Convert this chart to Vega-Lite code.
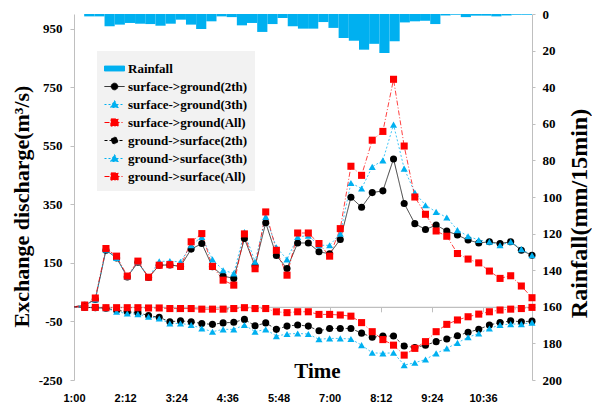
{
  "$schema": "https://vega.github.io/schema/vega-lite/v6.json",
  "width": 458,
  "height": 366,
  "autosize": {"type": "none"},
  "padding": {"left": 74, "top": 14, "right": 60, "bottom": 25},
  "config": {
    "view": {"stroke": null},
    "font": "Liberation Serif",
    "axis": {
      "labelFont": "Liberation Serif",
      "labelFontWeight": "bold",
      "labelColor": "#000000",
      "titleFont": "Liberation Serif",
      "titleFontWeight": "bold",
      "titleColor": "#000000",
      "domainColor": "#bfbfbf",
      "tickColor": "#bfbfbf",
      "grid": false
    },
    "legend": {
      "orient": "none", "legendX": 23, "legendY": 37, "title": null,
      "fillColor": "#f2f2f2", "padding": 7,
      "labelFont": "Liberation Serif", "labelFontWeight": "bold", "labelFontSize": 13,
      "labelColor": "#000000", "labelLimit": 300, "labelOffset": 3,
      "symbolSize": 400, "symbolStrokeWidth": 1, "rowPadding": -1.5
    }
  },
  "datasets": {
    "flow": [
      {"time": "2000-01-01T01:00", "sg2": 0, "sg3": 0, "sgAll": 0, "gs2": 0, "gs3": 0, "gsAll": 0},
      {"time": "2000-01-01T01:15", "sg2": 5, "sg3": 5, "sgAll": 6, "gs2": -2, "gs3": -2, "gsAll": -2},
      {"time": "2000-01-01T01:30", "sg2": 25, "sg3": 25, "sgAll": 30, "gs2": -3, "gs3": -3, "gsAll": -2},
      {"time": "2000-01-01T01:45", "sg2": 193, "sg3": 195, "sgAll": 199, "gs2": -5, "gs3": -5, "gsAll": -3},
      {"time": "2000-01-01T02:00", "sg2": 167, "sg3": 167, "sgAll": 173, "gs2": -12, "gs3": -17, "gsAll": -3},
      {"time": "2000-01-01T02:15", "sg2": 102, "sg3": 103, "sgAll": 105, "gs2": -17, "gs3": -23, "gsAll": -3},
      {"time": "2000-01-01T02:30", "sg2": 152, "sg3": 153, "sgAll": 156, "gs2": -20, "gs3": -25, "gsAll": -3},
      {"time": "2000-01-01T02:45", "sg2": 100, "sg3": 101, "sgAll": 101, "gs2": -30, "gs3": -34, "gsAll": -4},
      {"time": "2000-01-01T03:00", "sg2": 142, "sg3": 155, "sgAll": 142, "gs2": -36, "gs3": -40, "gsAll": -4},
      {"time": "2000-01-01T03:15", "sg2": 143, "sg3": 156, "sgAll": 144, "gs2": -51, "gs3": -57, "gsAll": -6},
      {"time": "2000-01-01T03:30", "sg2": 138, "sg3": 154, "sgAll": 138, "gs2": -48, "gs3": -57, "gsAll": -6},
      {"time": "2000-01-01T03:45", "sg2": 197, "sg3": 210, "sgAll": 222, "gs2": -51, "gs3": -62, "gsAll": -6},
      {"time": "2000-01-01T04:00", "sg2": 216, "sg3": 239, "sgAll": 250, "gs2": -57, "gs3": -74, "gsAll": -8},
      {"time": "2000-01-01T04:15", "sg2": 137, "sg3": 162, "sgAll": 138, "gs2": -60, "gs3": -85, "gsAll": -8},
      {"time": "2000-01-01T04:30", "sg2": 105, "sg3": 125, "sgAll": 91, "gs2": -55, "gs3": -77, "gsAll": -8},
      {"time": "2000-01-01T04:45", "sg2": 97, "sg3": 114, "sgAll": 74, "gs2": -53, "gs3": -77, "gsAll": -6},
      {"time": "2000-01-01T05:00", "sg2": 233, "sg3": 255, "sgAll": 249, "gs2": -43, "gs3": -62, "gsAll": -3},
      {"time": "2000-01-01T05:15", "sg2": 140, "sg3": 154, "sgAll": 130, "gs2": -65, "gs3": -85, "gsAll": -6},
      {"time": "2000-01-01T05:30", "sg2": 287, "sg3": 307, "sgAll": 324, "gs2": -55, "gs3": -77, "gsAll": -6},
      {"time": "2000-01-01T05:45", "sg2": 175, "sg3": 203, "sgAll": 193, "gs2": -77, "gs3": -100, "gsAll": -17},
      {"time": "2000-01-01T06:00", "sg2": 131, "sg3": 162, "sgAll": 108, "gs2": -66, "gs3": -93, "gsAll": -20},
      {"time": "2000-01-01T06:15", "sg2": 218, "sg3": 239, "sgAll": 252, "gs2": -62, "gs3": -91, "gsAll": -17},
      {"time": "2000-01-01T06:30", "sg2": 218, "sg3": 243, "sgAll": 252, "gs2": -66, "gs3": -93, "gsAll": -17},
      {"time": "2000-01-01T06:45", "sg2": 188, "sg3": 210, "sgAll": 216, "gs2": -82, "gs3": -111, "gsAll": -26},
      {"time": "2000-01-01T07:00", "sg2": 181, "sg3": 210, "sgAll": 173, "gs2": -74, "gs3": -108, "gsAll": -26},
      {"time": "2000-01-01T07:15", "sg2": 230, "sg3": 250, "sgAll": 267, "gs2": -74, "gs3": -108, "gsAll": -28},
      {"time": "2000-01-01T07:30", "sg2": 374, "sg3": 423, "sgAll": 480, "gs2": -74, "gs3": -110, "gsAll": -32},
      {"time": "2000-01-01T07:45", "sg2": 340, "sg3": 404, "sgAll": 449, "gs2": -90, "gs3": -131, "gsAll": -54},
      {"time": "2000-01-01T08:00", "sg2": 390, "sg3": 478, "sgAll": 569, "gs2": -104, "gs3": -157, "gsAll": -85},
      {"time": "2000-01-01T08:15", "sg2": 396, "sg3": 500, "sgAll": 599, "gs2": -100, "gs3": -159, "gsAll": -112},
      {"time": "2000-01-01T08:30", "sg2": 505, "sg3": 622, "sgAll": 777, "gs2": -100, "gs3": -157, "gsAll": -131},
      {"time": "2000-01-01T08:45", "sg2": 353, "sg3": 472, "sgAll": 549, "gs2": -134, "gs3": -199, "gsAll": -165},
      {"time": "2000-01-01T09:00", "sg2": 284, "sg3": 390, "sgAll": 375, "gs2": -139, "gs3": -191, "gsAll": -142},
      {"time": "2000-01-01T09:15", "sg2": 264, "sg3": 347, "sgAll": 316, "gs2": -131, "gs3": -180, "gsAll": -119},
      {"time": "2000-01-01T09:30", "sg2": 279, "sg3": 324, "sgAll": 259, "gs2": -119, "gs3": -159, "gsAll": -85},
      {"time": "2000-01-01T09:45", "sg2": 259, "sg3": 305, "sgAll": 241, "gs2": -110, "gs3": -142, "gsAll": -60},
      {"time": "2000-01-01T10:00", "sg2": 245, "sg3": 262, "sgAll": 182, "gs2": -99, "gs3": -123, "gsAll": -45},
      {"time": "2000-01-01T10:15", "sg2": 228, "sg3": 241, "sgAll": 163, "gs2": -87, "gs3": -104, "gsAll": -34},
      {"time": "2000-01-01T10:30", "sg2": 218, "sg3": 228, "sgAll": 150, "gs2": -77, "gs3": -91, "gsAll": -25},
      {"time": "2000-01-01T10:45", "sg2": 222, "sg3": 222, "sgAll": 122, "gs2": -62, "gs3": -74, "gsAll": -17},
      {"time": "2000-01-01T11:00", "sg2": 216, "sg3": 210, "sgAll": 97, "gs2": -54, "gs3": -62, "gsAll": -11},
      {"time": "2000-01-01T11:15", "sg2": 222, "sg3": 222, "sgAll": 106, "gs2": -48, "gs3": -59, "gsAll": -8},
      {"time": "2000-01-01T11:30", "sg2": 193, "sg3": 197, "sgAll": 71, "gs2": -51, "gs3": -59, "gsAll": -6},
      {"time": "2000-01-01T11:45", "sg2": 176, "sg3": 176, "sgAll": 31, "gs2": -49, "gs3": -54, "gsAll": -2}
    ],
    "rain": [
      {"t": "1:00", "rain": 0}, {"t": "1:15", "rain": 1.3}, {"t": "1:30", "rain": 1.3}, {"t": "1:45", "rain": 6.7},
      {"t": "2:00", "rain": 5.8}, {"t": "2:15", "rain": 4.9}, {"t": "2:30", "rain": 5.3}, {"t": "2:45", "rain": 5.5},
      {"t": "3:00", "rain": 6.4}, {"t": "3:15", "rain": 5.3}, {"t": "3:30", "rain": 3.1}, {"t": "3:45", "rain": 5.8},
      {"t": "4:00", "rain": 8.2}, {"t": "4:15", "rain": 4.0}, {"t": "4:30", "rain": 1.3}, {"t": "4:45", "rain": 1.7},
      {"t": "5:00", "rain": 6.2}, {"t": "5:15", "rain": 4.9}, {"t": "5:30", "rain": 9.8}, {"t": "5:45", "rain": 5.5},
      {"t": "6:00", "rain": 2.2}, {"t": "6:15", "rain": 6.7}, {"t": "6:30", "rain": 8.0}, {"t": "6:45", "rain": 8.0},
      {"t": "7:00", "rain": 4.4}, {"t": "7:15", "rain": 7.6}, {"t": "7:30", "rain": 13.1}, {"t": "7:45", "rain": 14.6},
      {"t": "8:00", "rain": 19.5}, {"t": "8:15", "rain": 16.3}, {"t": "8:30", "rain": 21.3}, {"t": "8:45", "rain": 14.9},
      {"t": "9:00", "rain": 4.6}, {"t": "9:15", "rain": 4.0}, {"t": "9:30", "rain": 3.7}, {"t": "9:45", "rain": 5.5},
      {"t": "10:00", "rain": 0.8}, {"t": "10:15", "rain": 0.4}, {"t": "10:30", "rain": 1.7}, {"t": "10:45", "rain": 0.9},
      {"t": "11:00", "rain": 0.9}, {"t": "11:15", "rain": 1.3}, {"t": "11:30", "rain": 0.8}, {"t": "11:45", "rain": 0.4},
      {"t": "12:00", "rain": 0.4}
    ]
  },
  "layer": [
    {
      "data": {"name": "rain"},
      "mark": {"type": "bar", "color": "#00b0f0"},
      "encoding": {
        "x": {"field": "t", "type": "ordinal", "sort": null, "scale": {"type": "band", "paddingInner": 0, "paddingOuter": 0}, "axis": null},
        "y": {
          "field": "rain", "type": "quantitative",
          "scale": {"domain": [0, 200], "reverse": true, "nice": false},
          "axis": {
            "orient": "right", "values": [0, 20, 40, 60, 80, 100, 120, 140, 160, 180, 200],
            "tickSize": 3, "labelPadding": 7, "labelFontSize": 13,
            "title": "Rainfall(mm/15min)", "titleFontSize": 24, "titleAngle": 270,
            "titleBaseline": "top", "titlePadding": 6, "titleY": 199
          }
        }
      }
    },
    {
      "data": {"name": "flow"},
      "transform": [{"fold": ["sg2", "sg3", "sgAll", "gs2", "gs3", "gsAll"], "as": ["series", "value"]}],
      "mark": {"type": "line", "strokeWidth": 1, "opacity": 0.75},
      "encoding": {
        "x": {
          "field": "time", "type": "temporal",
          "scale": {"domain": [{"year": 2000, "month": 1, "date": 1, "hours": 1, "minutes": 0}, {"year": 2000, "month": 1, "date": 1, "hours": 11, "minutes": 45}], "nice": false},
          "axis": {
            "orient": "bottom",
            "values": [
              {"year": 2000, "month": 1, "date": 1, "hours": 1, "minutes": 0},
              {"year": 2000, "month": 1, "date": 1, "hours": 2, "minutes": 12},
              {"year": 2000, "month": 1, "date": 1, "hours": 3, "minutes": 24},
              {"year": 2000, "month": 1, "date": 1, "hours": 4, "minutes": 36},
              {"year": 2000, "month": 1, "date": 1, "hours": 5, "minutes": 48},
              {"year": 2000, "month": 1, "date": 1, "hours": 7, "minutes": 0},
              {"year": 2000, "month": 1, "date": 1, "hours": 8, "minutes": 12},
              {"year": 2000, "month": 1, "date": 1, "hours": 9, "minutes": 24},
              {"year": 2000, "month": 1, "date": 1, "hours": 10, "minutes": 36}
            ],
            "format": "%-H:%M", "domain": false, "ticks": false, "tickSize": 0,
            "labelFont": "Liberation Sans", "labelFontSize": 11, "labelPadding": 12,
            "labelFlush": false, "labelOverlap": false,
            "title": "Time", "titleFontSize": 21, "titleX": 243, "titleY": -3,
            "titleBaseline": "alphabetic", "titleAlign": "center"
          }
        },
        "y": {
          "field": "value", "type": "quantitative",
          "scale": {"domain": [-250, 1000], "nice": false, "zero": false},
          "axis": {
            "orient": "left", "values": [-250, -50, 150, 350, 550, 750, 950],
            "labelExpr": "'' + datum.value",
            "tickSize": 4, "labelPadding": 8, "labelFontSize": 13,
            "title": "Exchange discharge(m³/s)", "titleFontSize": 22, "titlePadding": 5, "titleY": 192
          }
        },
        "color": {
          "field": "series", "type": "nominal",
          "scale": {"domain": ["sg2", "sg3", "sgAll", "gs2", "gs3", "gsAll"], "range": ["#000000", "#00b0f0", "#ff0000", "#000000", "#00b0f0", "#ff0000"]},
          "legend": null
        },
        "strokeDash": {
          "field": "series", "type": "nominal",
          "scale": {"domain": ["sg2", "sg3", "sgAll", "gs2", "gs3", "gsAll"], "range": [[1, 0], [2, 2], [5, 2, 1, 2], [3, 2], [2, 2], [5, 2, 1, 2]]},
          "legend": null
        }
      }
    },
    {
      "data": {"name": "flow"},
      "transform": [
        {"fold": ["sg2", "sg3", "sgAll", "gs2", "gs3", "gsAll"], "as": ["series", "value"]},
        {"filter": {"field": "time", "gt": {"year": 2000, "month": 1, "date": 1, "hours": 1, "minutes": 0}}}
      ],
      "mark": {"type": "point", "filled": true, "opacity": 1, "size": 50, "strokeWidth": 0},
      "encoding": {
        "x": {
          "field": "time", "type": "temporal",
          "scale": {"domain": [{"year": 2000, "month": 1, "date": 1, "hours": 1, "minutes": 0}, {"year": 2000, "month": 1, "date": 1, "hours": 11, "minutes": 45}], "nice": false},
          "axis": {
            "orient": "bottom", "offset": -73.2,
            "values": [
              {"year": 2000, "month": 1, "date": 1, "hours": 1, "minutes": 0},
              {"year": 2000, "month": 1, "date": 1, "hours": 2, "minutes": 12},
              {"year": 2000, "month": 1, "date": 1, "hours": 3, "minutes": 24},
              {"year": 2000, "month": 1, "date": 1, "hours": 4, "minutes": 36},
              {"year": 2000, "month": 1, "date": 1, "hours": 5, "minutes": 48},
              {"year": 2000, "month": 1, "date": 1, "hours": 7, "minutes": 0},
              {"year": 2000, "month": 1, "date": 1, "hours": 8, "minutes": 12},
              {"year": 2000, "month": 1, "date": 1, "hours": 9, "minutes": 24},
              {"year": 2000, "month": 1, "date": 1, "hours": 10, "minutes": 36}
            ],
            "labels": false, "tickSize": 5, "domainWidth": 1.2, "title": null
          }
        },
        "y": {
          "field": "value", "type": "quantitative",
          "scale": {"domain": [-250, 1000], "nice": false, "zero": false},
          "axis": null
        },
        "color": {
          "field": "series", "type": "nominal",
          "scale": {"domain": ["sg2", "sg3", "sgAll", "gs2", "gs3", "gsAll"], "range": ["#000000", "#00b0f0", "#ff0000", "#000000", "#00b0f0", "#ff0000"]},
          "legend": null
        },
        "shape": {
          "field": "series", "type": "nominal",
          "scale": {"domain": ["sg2", "sg3", "sgAll", "gs2", "gs3", "gsAll"], "range": ["circle", "triangle-up", "square", "circle", "triangle-up", "square"]},
          "legend": null
        }
      }
    },
    {
      "data": {"name": "rain"},
      "transform": [{"filter": "false"}],
      "mark": {"type": "point", "filled": true, "opacity": 1},
      "encoding": {
        "fill": {
          "field": "entry", "type": "nominal",
          "scale": {
            "domain": ["Rainfall", "surface->ground(2th)", "surface->ground(3th)", "surface->ground(All)", "ground->surface(2th)", "ground->surface(3th)", "ground->surface(All)"],
            "range": ["#00b0f0", "#000000", "#00b0f0", "#ff0000", "#000000", "#00b0f0", "#ff0000"]
          }
        },
        "stroke": {
          "field": "entry", "type": "nominal",
          "scale": {
            "domain": ["Rainfall", "surface->ground(2th)", "surface->ground(3th)", "surface->ground(All)", "ground->surface(2th)", "ground->surface(3th)", "ground->surface(All)"],
            "range": ["#00b0f0", "#000000", "#00b0f0", "#ff0000", "#000000", "#00b0f0", "#ff0000"]
          }
        },
        "shape": {
          "field": "entry", "type": "nominal",
          "scale": {
            "domain": ["Rainfall", "surface->ground(2th)", "surface->ground(3th)", "surface->ground(All)", "ground->surface(2th)", "ground->surface(3th)", "ground->surface(All)"],
            "range": [
              "M-1,-0.25H1V0.25H-1Z",
              "M-1,0H1M0.33,0A0.33,0.33,0,1,1,-0.33,0A0.33,0.33,0,1,1,0.33,0Z",
              "M-1,0H1M0,-0.4L0.4,0.3L-0.4,0.3Z",
              "M-1,0H1M-0.36,-0.36H0.36V0.36H-0.36Z",
              "M-1,0H1M0.33,0A0.33,0.33,0,1,1,-0.33,0A0.33,0.33,0,1,1,0.33,0Z",
              "M-1,0H1M0,-0.4L0.4,0.3L-0.4,0.3Z",
              "M-1,0H1M-0.36,-0.36H0.36V0.36H-0.36Z"
            ]
          }
        },
        "strokeDash": {
          "field": "entry", "type": "nominal",
          "scale": {
            "domain": ["Rainfall", "surface->ground(2th)", "surface->ground(3th)", "surface->ground(All)", "ground->surface(2th)", "ground->surface(3th)", "ground->surface(All)"],
            "range": [[1, 0], [1, 0], [2, 2], [5, 2, 1, 2], [3, 2], [2, 2], [5, 2, 1, 2]]
          }
        }
      }
    }
  ],
  "resolve": {
    "scale": {"x": "independent", "y": "independent", "shape": "independent", "strokeDash": "independent", "fill": "independent", "stroke": "independent"},
    "axis": {"x": "independent", "y": "independent"}
  }
}
